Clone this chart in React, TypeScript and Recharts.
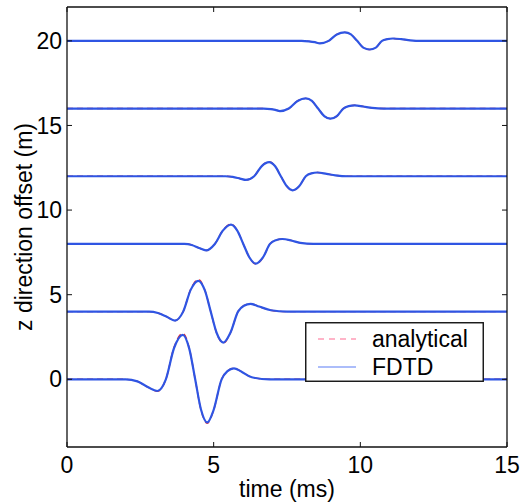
import { LineChart, Line, XAxis, YAxis, Legend } from "recharts";

const X_TICKS = [0, 5, 10, 15];
const Y_TICKS = [0, 5, 10, 15, 20];

// receiver at 0 m
const t0 = [0, 2.0, 2.4, 2.75, 3.08, 3.37, 3.65, 3.95, 4.17, 4.37, 4.57, 4.78, 5.0, 5.27, 5.47, 5.69, 5.95, 6.3, 6.9, 15];
const fdtd0 = [0, 0, -0.12, -0.45, -0.69, 0, 1.85, 2.63, 1.8, 0, -1.8, -2.55, -1.8, 0, 0.48, 0.65, 0.45, 0.12, 0, 0];
const analytical0 = [0, 0, -0.12, -0.46, -0.71, 0, 1.9, 2.72, 1.82, 0, -1.82, -2.6, -1.82, 0, 0.48, 0.66, 0.45, 0.12, 0, 0];

// receiver at 4 m
const t4 = [0, 2.8, 3.1, 3.4, 3.68, 3.96, 4.22, 4.48, 4.7, 4.9, 5.1, 5.33, 5.57, 5.83, 6.03, 6.26, 6.55, 6.95, 7.5, 15];
const fdtd4 = [4, 4, 3.92, 3.7, 3.47, 4, 5.3, 5.82, 5.25, 4, 2.75, 2.17, 2.75, 4, 4.35, 4.46, 4.3, 4.08, 4, 4];
const analytical4 = [4, 4, 3.92, 3.7, 3.46, 4, 5.33, 5.9, 5.27, 4, 2.74, 2.14, 2.74, 4, 4.35, 4.46, 4.3, 4.08, 4, 4];

// receiver at 8 m
const t8 = [0, 4.0, 4.25, 4.5, 4.74, 5.04, 5.32, 5.59, 5.8, 6.01, 6.22, 6.44, 6.68, 6.92, 7.12, 7.34, 7.65, 7.95, 8.4, 15];
const fdtd8 = [8, 8, 7.94, 7.76, 7.62, 8, 8.8, 9.14, 8.8, 8, 7.2, 6.83, 7.2, 8, 8.22, 8.29, 8.2, 8.06, 8, 8];
const analytical8 = [8, 8, 7.94, 7.76, 7.61, 8, 8.82, 9.18, 8.81, 8, 7.19, 6.81, 7.19, 8, 8.22, 8.29, 8.2, 8.06, 8, 8];

// receiver at 12 m
const t12 = [0, 5.4, 5.65, 5.9, 6.1, 6.38, 6.64, 6.89, 7.09, 7.29, 7.49, 7.69, 7.92, 8.14, 8.33, 8.54, 8.85, 9.15, 9.6, 15];
const fdtd12 = [12, 12, 11.96, 11.86, 11.78, 12, 12.6, 12.83, 12.6, 12, 11.42, 11.17, 11.42, 12, 12.17, 12.22, 12.14, 12.05, 12, 12];
const analytical12 = [12, 12, 11.96, 11.86, 11.78, 12, 12.61, 12.86, 12.61, 12, 11.41, 11.16, 11.41, 12, 12.17, 12.22, 12.14, 12.05, 12, 12];

// receiver at 16 m
const t16 = [0, 6.7, 6.95, 7.1, 7.26, 7.56, 7.86, 8.14, 8.35, 8.56, 8.77, 8.98, 9.2, 9.42, 9.6, 9.81, 10.1, 10.4, 10.8, 15];
const fdtd16 = [16, 16, 15.97, 15.92, 15.85, 16, 16.45, 16.6, 16.45, 16, 15.55, 15.4, 15.55, 16, 16.14, 16.19, 16.12, 16.04, 16, 16];
const analytical16 = fdtd16;

// receiver at 20 m
const t20 = [0, 8.0, 8.25, 8.45, 8.62, 8.92, 9.2, 9.47, 9.68, 9.89, 10.1, 10.32, 10.53, 10.74, 10.92, 11.11, 11.4, 11.7, 12.1, 15];
const fdtd20 = [20, 20, 19.97, 19.92, 19.85, 20, 20.38, 20.5, 20.38, 20, 19.6, 19.49, 19.6, 20, 20.1, 20.14, 20.1, 20.03, 20, 20];
const analytical20 = fdtd20;

const toPoints = (t: number[], z: number[]) => t.map((v, i) => ({ t: v, z: z[i] }));

const TRACES = [
  { id: "0", t: t0, fdtd: fdtd0, analytical: analytical0 },
  { id: "4", t: t4, fdtd: fdtd4, analytical: analytical4 },
  { id: "8", t: t8, fdtd: fdtd8, analytical: analytical8 },
  { id: "12", t: t12, fdtd: fdtd12, analytical: analytical12 },
  { id: "16", t: t16, fdtd: fdtd16, analytical: analytical16 },
  { id: "20", t: t20, fdtd: fdtd20, analytical: analytical20 },
];

const BLUE = "#2f55e3";
const RED = "#ee2a2a";
const INK = "#111";
const FONT = "'Liberation Sans', Arial, Helvetica, sans-serif";

function LegendBox() {
  return (
    <svg width={179} height={60} style={{ display: "block" }}>
      <rect x={0.75} y={0.75} width={177.5} height={58.5} fill="#fff" stroke={INK} strokeWidth={1.4} />
      <line x1={13} x2={51} y1={17} y2={17} stroke="#ff6a92" strokeWidth={1.2} strokeDasharray="6 5" />
      <text x={67} y={25} fontSize={23} fill="#000" fontFamily={FONT}>analytical</text>
      <line x1={13} x2={51} y1={45} y2={45} stroke="#5a7df5" strokeWidth={1.2} />
      <text x={67} y={53} fontSize={23} fill="#000" fontFamily={FONT}>FDTD</text>
    </svg>
  );
}

// empty label so the inward tick marks still get drawn on the top/right frame
const NoLabel = () => <g />;

export default function App() {
  const tickStyle = { fill: "#000", fontSize: 23, fontFamily: FONT };
  return (
    <div style={{ position: "absolute", left: 0, top: 0, width: 529, height: 503, background: "#fff" }}>
      <LineChart
        width={529}
        height={503}
        margin={{ top: 6, right: 21, bottom: 0, left: 0 }}
        style={{ fontFamily: FONT }}
      >
        <XAxis
          xAxisId="b"
          type="number"
          dataKey="t"
          domain={[0, 15]}
          ticks={X_TICKS}
          allowDataOverflow
          height={56}
          tickSize={-5}
          tickMargin={15}
          tick={tickStyle}
          stroke={INK}
          axisLine={{ stroke: INK, strokeWidth: 1.3 }}
          tickLine={{ stroke: INK }}
          label={{ value: "time (ms)", position: "insideBottom", offset: 6, fill: "#000", fontSize: 23 }}
        />
        <XAxis
          xAxisId="top"
          orientation="top"
          type="number"
          dataKey="t"
          domain={[0, 15]}
          ticks={X_TICKS}
          allowDataOverflow
          height={1}
          tickSize={-5}
          tick={NoLabel}
          axisLine={{ stroke: INK, strokeWidth: 1.3 }}
          tickLine={{ stroke: INK }}
        />
        <YAxis
          yAxisId="l"
          type="number"
          dataKey="z"
          domain={[-4, 22]}
          ticks={Y_TICKS}
          allowDataOverflow
          width={67}
          tickSize={-5}
          tickMargin={10}
          tick={tickStyle}
          axisLine={{ stroke: INK, strokeWidth: 1.3 }}
          tickLine={{ stroke: INK }}
          label={{
            value: "z direction offset (m)",
            angle: -90,
            position: "insideLeft",
            offset: 24,
            fill: "#000",
            fontSize: 23,
            style: { textAnchor: "middle" },
          }}
        />
        <YAxis
          yAxisId="right"
          orientation="right"
          type="number"
          domain={[-4, 22]}
          ticks={Y_TICKS}
          allowDataOverflow
          width={1}
          tickSize={-5}
          tick={NoLabel}
          axisLine={{ stroke: INK, strokeWidth: 1.3 }}
          tickLine={{ stroke: INK }}
        />
        {TRACES.map((tr) => (
          <Line
            key={"a" + tr.id}
            xAxisId="b"
            yAxisId="l"
            data={toPoints(tr.t, tr.analytical)}
            dataKey="z"
            type="monotone"
            stroke={RED}
            strokeWidth={1.4}
            strokeDasharray="6 4"
            dot={false}
            isAnimationActive={false}
          />
        ))}
        {TRACES.map((tr) => (
          <Line
            key={"f" + tr.id}
            xAxisId="b"
            yAxisId="l"
            data={toPoints(tr.t, tr.fdtd)}
            dataKey="z"
            type="monotone"
            stroke={BLUE}
            strokeWidth={2.2}
            dot={false}
            isAnimationActive={false}
          />
        ))}
        <Legend
          verticalAlign="middle"
          wrapperStyle={{ position: "absolute", left: 305, top: 322, width: 179, height: 60 }}
          content={() => <LegendBox />}
        />
      </LineChart>
    </div>
  );
}
